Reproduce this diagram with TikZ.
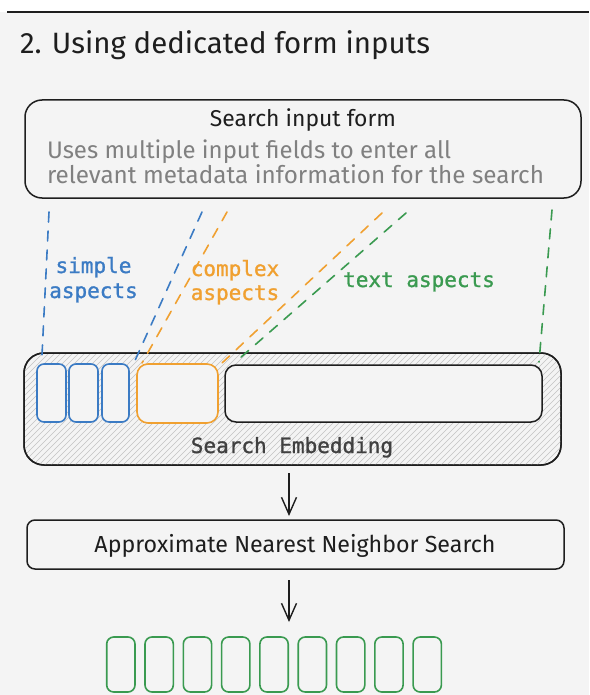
\documentclass[tikz,border=0pt]{standalone}
\usepackage{fontspec}
\usepackage{graphicx}
\newfontfamily\handfont{Fira Sans}
\newfontfamily\monofont[FakeBold=1.2]{DejaVu Sans Mono}
\usetikzlibrary{arrows.meta,calc}
\definecolor{paper}{HTML}{F4F4F4}
\definecolor{ink}{HTML}{1E1E1E}
\definecolor{softgray}{HTML}{808080}
\definecolor{hatchgray}{HTML}{C2C2C2}
\definecolor{aspblue}{HTML}{3B7BC4}
\definecolor{asporange}{HTML}{F0A030}
\definecolor{aspgreen}{HTML}{3A9A50}
\newcommand{\fitto}[2]{\resizebox{#1}{!}{#2}}

\begin{document}
\begin{tikzpicture}[x=1pt,y=-1pt,
  frame/.style={draw=ink, line width=1.5pt, rounded corners=#1,
    inner sep=0pt, outer sep=0pt, fill=paper},
  slot/.style={draw=#1, line width=1.6pt, inner sep=0pt, outer sep=0pt, fill=paper},
  hand/.style={inner sep=0pt, outer sep=0pt, font=\handfont, text=ink},
  mono/.style={inner sep=0pt, outer sep=0pt, font=\monofont\fontsize{21}{25}\selectfont},
  link/.style={draw=#1, line width=1.6pt, dash pattern=on 10pt off 9pt, line cap=round},
  flow/.style={draw=ink, line width=1.4pt, -{Straight Barb[length=17pt,width=15pt,line width=1.4pt]}},
  hatch/.style={draw=hatchgray, line width=0.6pt}
]
\useasboundingbox (0,0) rectangle (589,695);
% page background and header rule
\fill[paper] (0,0) rectangle (589,695);
\fill[white] (0,0) rectangle (589,12);
\draw[ink, line width=2pt] (7,12) -- (589,12);

% heading
\node[hand, anchor=base west] (heading) at (20,54) {\fitto{410pt}{2. Using dedicated form inputs}};

% search input form
\node[frame=17pt, minimum width=556pt, minimum height=98pt] (form) at (303,149) {};
\node[hand, anchor=base] (formtitle) at (303,127) {\fitto{186pt}{Search input form}};
\node[hand, anchor=base west, text=softgray] (formlineA) at (47,159) {\fitto{404pt}{Uses multiple input fields to enter all}};
\node[hand, anchor=base west, text=softgray] (formlineB) at (47,183) {\fitto{497pt}{relevant metadata information for the search}};

% search embedding with hatched fill
\node[frame=20pt, minimum width=537pt, minimum height=112pt] (emb) at (292.5,409) {};
\begin{scope}
  \clip[rounded corners=20pt] (emb.north west) rectangle (emb.south east);
  \foreach \i in {-130,-124,...,580} \draw[hatch] (\i,466) -- ++(114,-114);
\end{scope}
\draw[ink, line width=1.5pt, rounded corners=20pt] (emb.north west) rectangle (emb.south east);

\node[slot=aspblue, rounded corners=7pt, minimum width=29pt, minimum height=58pt] (b1) at (51.5,393) {};
\node[slot=aspblue, rounded corners=7pt, minimum width=29pt, minimum height=58pt] (b2) at (83.5,393) {};
\node[slot=aspblue, rounded corners=7pt, minimum width=27pt, minimum height=58pt] (b3) at (115.5,393) {};
\node[slot=asporange, rounded corners=11pt, minimum width=81pt, minimum height=59pt] (o1) at (177.5,393.5) {};
\node[slot=ink, line width=1.5pt, rounded corners=11pt, minimum width=317pt, minimum height=57pt] (t1) at (383.5,393.5) {};
\node[mono, anchor=base, text=ink!85] (embtitle) at (292,453) {Search Embedding};

% aspect labels
\node[mono, anchor=base, text=aspblue] (simpleA) at (93.5,273) {simple};
\node[mono, anchor=base, text=aspblue] (simpleB) at (93.5,298) {aspects};
\node[mono, anchor=base, text=asporange] (complexA) at (235,276) {complex};
\node[mono, anchor=base, text=asporange] (complexB) at (235,300) {aspects};
\node[mono, anchor=base, text=aspgreen] (textasp) at (419,287) {text aspects};

% dashed links from the form to the embedding slots
\coordinate (sA) at (49,212);
\coordinate (sB) at (202,212);
\coordinate (cA) at (227,212);
\coordinate (cB) at (382,213);
\coordinate (tA) at (406,213);
\coordinate (tB) at (552,210);
\draw[link=aspblue] (sA) -- ($(b1.north west)+(5,-9)$);
\draw[link=aspblue] (sB) -- ($(b3.north east)+(4,1)$);
\draw[link=asporange] (cA) -- ($(o1.north west)+(5,-1)$);
\draw[link=asporange] (cB) -- ($(o1.north east)+(4,-1)$);
\draw[link=aspgreen] (tA) -- ($(t1.north west)+(15,-7)$);
\draw[link=aspgreen] (tB) -- ($(t1.north east)+(-3,-3)$);

% nearest neighbour search
\node[frame=8pt, minimum width=537pt, minimum height=49pt] (ann) at (295.5,544.5) {};
\node[hand, anchor=base] (anntitle) at (295,552) {\fitto{401pt}{Approximate Nearest Neighbor Search}};

\draw[flow] ($(emb.south)+(-3.5,8)$) -- ($(ann.north)+(-6.5,-4)$);

% result vectors
\foreach \k in {1,...,9}
  \node[slot=aspgreen, rounded corners=7pt, minimum width=28.3pt, minimum height=55pt]
    (g\k) at ({120.85+38.3*(\k-1)},664.5) {};
\coordinate (resulttop) at (289,622);
\draw[flow] ($(ann.south)+(-6.5,11)$) -- (resulttop);
\end{tikzpicture}
\end{document}
